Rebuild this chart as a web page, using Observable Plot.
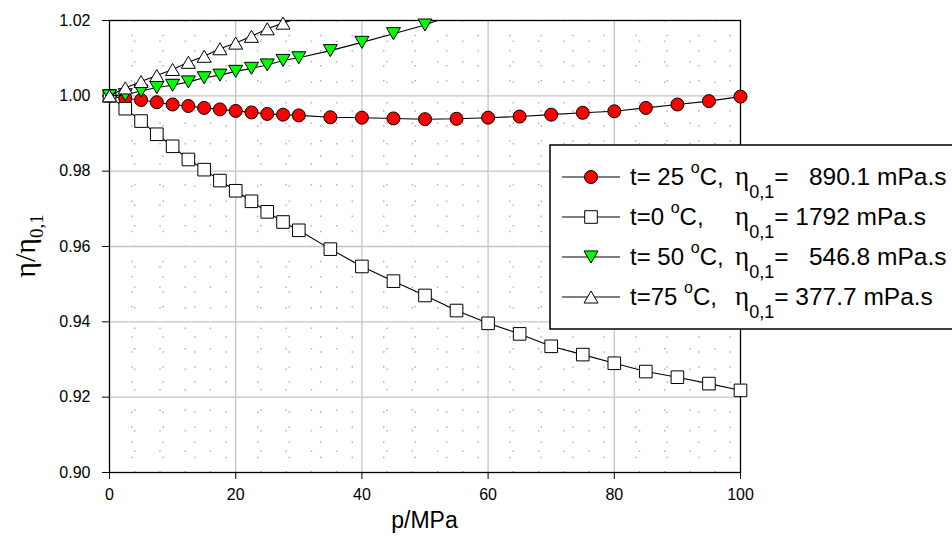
<!DOCTYPE html>
<html><head><meta charset="utf-8">
<script src="https://cdn.jsdelivr.net/npm/d3@7"></script>
<script src="https://cdn.jsdelivr.net/npm/@observablehq/plot@0.6"></script>
<style>
body{margin:0;background:#fff}
#chart{position:relative;width:952px;height:554px;overflow:hidden;background:#fff}
</style>
</head><body><div id="chart"></div>
<script>
// ---- data ----
const pressure = [0,2.5,5,7.5,10,12.5,15,17.5,20,22.5,25,27.5,30,35,40,45,50,55,60,65,70,75,80,85,90,95,100];
const eta25 = [1.0000,0.9993,0.9989,0.9983,0.9977,0.9973,0.9968,0.9964,0.9960,0.9956,0.9952,0.9950,0.9948,0.9943,0.9942,0.9940,0.9938,0.9939,0.9942,0.9945,0.9950,0.9955,0.9959,0.9968,0.9977,0.9986,0.9998];
const eta0  = [1.0000,0.9966,0.9933,0.9898,0.9866,0.9831,0.9804,0.9775,0.9748,0.9720,0.9692,0.9665,0.9643,0.9593,0.9547,0.9508,0.9470,0.9430,0.9396,0.9368,0.9335,0.9313,0.9290,0.9268,0.9253,0.9236,0.9218];
const eta50 = [1.0000,1.0003,1.0013,1.0022,1.0028,1.0037,1.0048,1.0055,1.0065,1.0073,1.0082,1.0094,1.0101,1.0120,1.0142,1.0165,1.0188,1.0219];
const eta75 = [1.0000,1.0021,1.0038,1.0054,1.0070,1.0089,1.0105,1.0125,1.0140,1.0158,1.0178,1.0193,1.0208];

const seriesNames = ["t25","t0","t50","t75"];
const legendTemp = ["t= 25 ", "t=0 ", "t= 50 ", "t=75 "];
const legendEta = ["=   890.1 mPa.s", "= 1792 mPa.s", "=   546.8 mPa.s", "= 377.7 mPa.s"];

const xTicks = [0,20,40,60,80,100];
const yTicks = [0.90,0.92,0.94,0.96,0.98,1.00,1.02];
const xMajorGrid = [20,40,60,80];
const yMajorGrid = [0.92,0.94,0.96,0.98,1.00];
const xMinorGrid = [4,8,12,16,24,28,32,36,44,48,52,56,64,68,72,76,84,88,92,96];
const yMinorGrid = [0.904,0.908,0.912,0.916,0.924,0.928,0.932,0.936,0.944,0.948,0.952,0.956,0.964,0.968,0.972,0.976,0.984,0.988,0.992,0.996,1.004,1.008,1.012,1.016];

// ---- build table ----
const allValues = [eta25, eta0, eta50, eta75];
const rows = [];
allValues.forEach((vals, i) => vals.forEach((v, j) => rows.push({p: pressure[j], v, s: seriesNames[i]})));
const inside = rows.filter(d => d.v <= 1.02);

// custom symbols centred on their bounding box
const sq = {draw(ctx, size){ const r = Math.sqrt(size/Math.PI); ctx.rect(-r,-r,2*r,2*r); }};
const triUp = {draw(ctx, size){ const r = Math.sqrt(size/Math.PI); const h = 1.72*r;
  ctx.moveTo(0,-h/2); ctx.lineTo(r,h/2); ctx.lineTo(-r,h/2); ctx.closePath(); }};
const triDown = {draw(ctx, size){ const r = Math.sqrt(size/Math.PI); const h = 1.72*r;
  ctx.moveTo(-r,-h/2); ctx.lineTo(r,-h/2); ctx.lineTo(0,h/2); ctx.closePath(); }};

const styles = {
  t25: {symbol: "circle", r: 6.5, fill: "#ff0000"},
  t0:  {symbol: sq, r: 6.3, fill: "#ffffff"},
  t50: {symbol: triDown, r: 7, fill: "#00ff00"},
  t75: {symbol: triUp, r: 7, fill: "#ffffff"}
};

const seriesMarks = [];
seriesNames.forEach(s => {
  seriesMarks.push(Plot.line(rows.filter(d => d.s === s), {x: "p", y: "v", stroke: "black", strokeWidth: 1.1, clip: true}));
  seriesMarks.push(Plot.dot(inside.filter(d => d.s === s), {x: "p", y: "v", symbol: styles[s].symbol, r: styles[s].r, fill: styles[s].fill, stroke: "black", strokeWidth: 1}));
});

const chart = Plot.plot({
  width: 952, height: 554,
  marginLeft: 109, marginRight: 212, marginTop: 20, marginBottom: 82,
  style: {fontFamily: "'Liberation Sans', Arial, sans-serif", fontSize: "16px", color: "black", background: "white"},
  x: {domain: [0, 100]},
  y: {domain: [0.90, 1.02]},
  marks: [
    Plot.ruleX(xMinorGrid, {stroke: "#b4b4b4", strokeWidth: 1.5, strokeDasharray: "1.5,19"}),
    Plot.ruleY(yMinorGrid, {stroke: "#b4b4b4", strokeWidth: 1.5, strokeDasharray: "1.5,30", strokeDashoffset: -22}),
    Plot.ruleX(xMajorGrid, {stroke: "#c4c4c4", strokeWidth: 1.3}),
    Plot.ruleY(yMajorGrid, {stroke: "#c4c4c4", strokeWidth: 1.3}),
    Plot.frame({stroke: "black", strokeWidth: 1.3}),
    Plot.axisX({ticks: xTicks, tickSize: 7, tickPadding: 9, label: null, fontSize: 16}),
    Plot.axisY({ticks: yTicks, tickSize: 7, tickPadding: 12, tickFormat: d3.format(".2f"), label: null, fontSize: 16}),
    ...seriesMarks
  ]
});
document.getElementById("chart").appendChild(chart);

// ---- titles and legend ----
const svg = d3.select(chart);
const sans = "'Liberation Sans', Arial, sans-serif";
const serif = "'Liberation Serif', 'Times New Roman', serif";

svg.append("text").attr("x", 424.5).attr("y", 528).attr("text-anchor", "middle")
  .attr("font-family", sans).attr("font-size", 23).attr("fill", "black").text("p/MPa");

const yl = svg.append("text").attr("transform", "translate(35,246) rotate(-90)").attr("text-anchor", "middle")
  .attr("font-family", serif).attr("font-size", 30).attr("fill", "black");
yl.append("tspan").text("η/η");
yl.append("tspan").attr("font-size", 19).attr("dy", 8).text("0,1");

const lg = svg.append("g").attr("text-anchor", "start");
lg.append("rect").attr("x", 550).attr("y", 145).attr("width", 420).attr("height", 184)
  .attr("fill", "white").attr("stroke", "black").attr("stroke-width", 1.5);
const rowY = [177, 217, 257, 297];
seriesNames.forEach((s, i) => {
  const y = rowY[i];
  lg.append("line").attr("x1", 562).attr("x2", 620).attr("y1", y).attr("y2", y).attr("stroke", "black").attr("stroke-width", 1.1);
  const st = styles[s];
  const sym = typeof st.symbol === "string" ? d3.symbolCircle : st.symbol;
  lg.append("path").attr("transform", `translate(591,${y})`)
    .attr("d", d3.symbol(sym, st.r * st.r * Math.PI)())
    .attr("fill", st.fill).attr("stroke", "black").attr("stroke-width", 1);
  const ta = lg.append("text").attr("x", 630).attr("y", y + 8).attr("text-anchor", "start")
    .attr("font-family", sans).attr("font-size", 24).attr("fill", "black").style("white-space", "pre");
  ta.append("tspan").text(legendTemp[i]);
  ta.append("tspan").attr("font-size", 16).attr("dy", -12).text("o");
  ta.append("tspan").attr("dy", 12).text("C,");
  const tb = lg.append("text").attr("x", 735).attr("y", y + 8).attr("text-anchor", "start")
    .attr("font-family", sans).attr("font-size", 24.5).attr("fill", "black").style("white-space", "pre");
  tb.append("tspan").attr("font-family", serif).attr("font-size", 27).text("η");
  tb.append("tspan").attr("font-size", 18).attr("dy", 13).text("0,1");
  tb.append("tspan").attr("dy", -13).text(legendEta[i]);
});
</script>
</body></html>
